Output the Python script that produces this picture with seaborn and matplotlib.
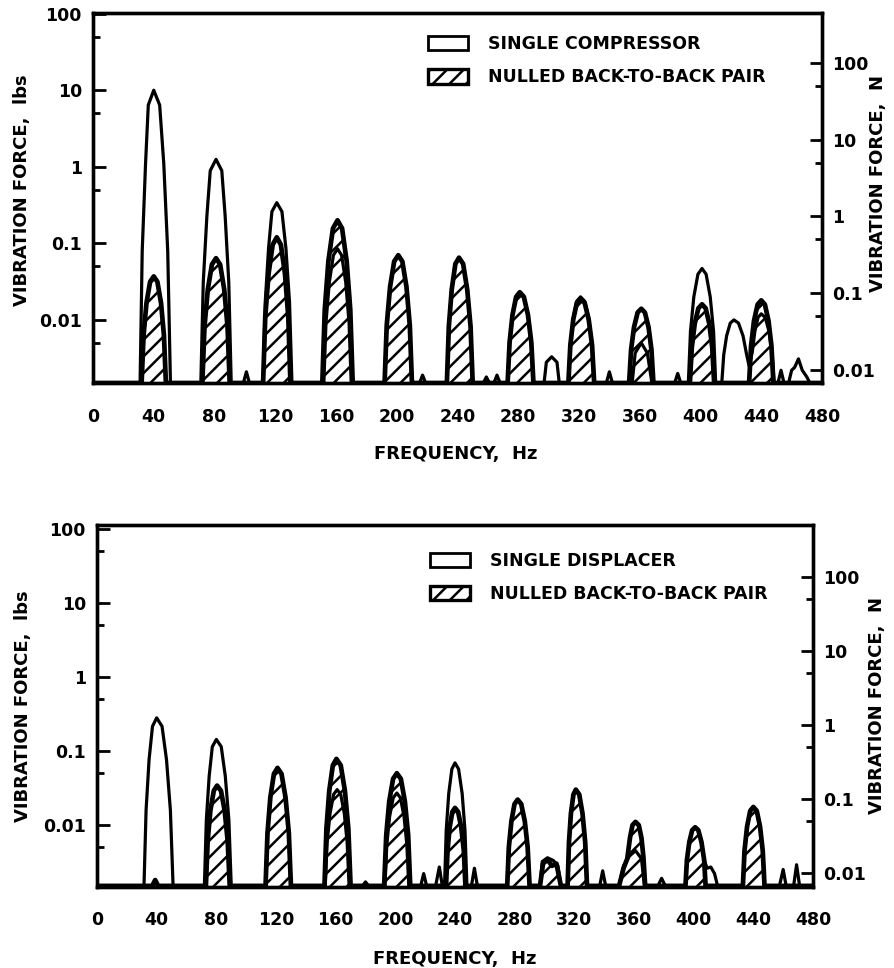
import matplotlib
matplotlib.use("Agg")
import matplotlib.pyplot as plt
from matplotlib.patches import Patch
import pandas as pd
import seaborn as sns

# ---------------- data ----------------
FREQ_TICKS = [0, 40, 80, 120, 160, 200, 240, 280, 320, 360, 400, 440, 480]
LBS_TICKS = [0.01, 0.1, 1, 10, 100]
LBS_LABELS = ["0.01", "0.1", "1", "10", "100"]
LBS_MINOR = [0.005, 0.05, 0.5, 5, 50]
N_TICKS = [0.01, 0.1, 1, 10, 100]
N_LABELS = ["0.01", "0.1", "1", "10", "100"]
N_MINOR = [0.05, 0.5, 5, 50]
LB_TO_N = 4.448
BASE = 0.0015

# top panel: single compressor (open outline)
TOP_SINGLE_F = [
    0, 31, 32.4, 34.6, 36.4, 40, 43.9, 46.6, 49.2, 51,
    71, 72.6, 75, 77.2, 81, 84.8, 87, 89.4, 91,
    99, 101, 103,
    112, 113.4, 115.6, 117.8, 121, 124.4, 127, 129.4, 131,
    152, 153.4, 155.6, 158.3, 161, 163.7, 166.4, 168.6, 170,
    192, 193.4, 195.6, 198.3, 201, 203.7, 206.4, 208.6, 210,
    215, 217, 219,
    233, 234.3, 236.2, 238.6, 241, 243.7, 246.4, 248.6, 250,
    257, 259, 261, 264, 266, 268,
    273, 274.3, 276.2, 278.6, 281, 283.7, 286.4, 288.6, 290,
    297, 298.5, 302, 305.5, 307,
    313, 314.3, 316.2, 318.6, 321, 323.7, 326.4, 328.6, 330,
    338, 340, 342,
    355, 357, 361, 365, 368,
    383, 385, 387,
    392, 393.4, 395.6, 398.3, 401, 403.7, 406.4, 408.6, 410,
    414, 415.3, 417.2, 419.6, 422, 425, 428, 430.4, 432,
    434.1, 435.8, 437.9, 440, 442.6, 445.1, 447.1, 448.5,
    451, 453, 455, 458, 460, 462, 464.5, 467, 470, 472, 480]
TOP_SINGLE_V = [
    .0015, .0015, .079, 1.1, 6.4, 10, 6.4, 1.1, .079, .0015,
    .0015, .031, .23, .89, 1.25, .89, .23, .031, .0015,
    .0015, .0021, .0015,
    .0015, .017, .087, .26, .34, .26, .087, .017, .0015,
    .0015, .0092, .031, .07, .085, .07, .031, .0092, .0015,
    .0015, .0085, .027, .058, .07, .058, .027, .0085, .0015,
    .0015, .0019, .0015,
    .0015, .0082, .025, .054, .065, .054, .025, .0082, .0015,
    .0015, .0018, .0015, .0015, .0019, .0015,
    .0015, .0051, .0116, .020, .023, .020, .0116, .0051, .0015,
    .0015, .0028, .0033, .0028, .0015,
    .0015, .0048, .0105, .0176, .020, .0176, .0105, .0048, .0015,
    .0015, .0021, .0015,
    .0015, .0037, .005, .0037, .0015,
    .0015, .002, .0015,
    .0015, .0071, .020, .0395, .047, .0395, .020, .0071, .0015,
    .0015, .0035, .0062, .0091, .010, .0091, .0062, .0035, .0025,
    .0038, .0071, .0108, .012, .0108, .0071, .0038, .0015,
    .0015, .0022, .0015, .0015, .0022, .0024, .0031, .0022, .0018, .0015, .0015]

# top panel: nulled back-to-back pair (hatched)
TOP_NULLED_F = [
    0, 32, 33.3, 35.2, 37.6, 40, 42.4, 44.8, 46.7, 48,
    72, 73.4, 75.6, 78.3, 81, 83.7, 86.4, 88.6, 90,
    112, 113.4, 115.6, 118.3, 121, 123.7, 126.4, 128.6, 130,
    151, 152.6, 155, 158, 161, 164, 167, 169.4, 171,
    192, 193.4, 195.6, 198.3, 201, 203.7, 206.4, 208.6, 210,
    233, 234.3, 236.2, 238.6, 241, 243.7, 246.4, 248.6, 250,
    273, 274.3, 276.2, 278.6, 281, 283.7, 286.4, 288.6, 290,
    313, 314.3, 316.2, 318.6, 321, 323.7, 326.4, 328.6, 330,
    353, 354.3, 356.2, 358.6, 361, 363.4, 365.8, 367.7, 369,
    393, 394.3, 396.2, 398.6, 401, 403.4, 405.8, 407.7, 409,
    432, 433.3, 435.2, 437.6, 440, 442.4, 444.8, 446.7, 448,
    480]
TOP_NULLED_V = [
    .0015, .0015, .0063, .0166, .0315, .037, .0315, .0166, .0063, .0015,
    .0015, .0081, .025, .053, .064, .053, .025, .0081, .0015,
    .0015, .0108, .040, .096, .12, .096, .040, .0108, .0015,
    .0015, .0136, .059, .157, .20, .157, .059, .0136, .0015,
    .0015, .0085, .027, .058, .07, .058, .027, .0085, .0015,
    .0015, .0082, .025, .054, .065, .054, .025, .0082, .0015,
    .0015, .0051, .0116, .020, .023, .020, .0116, .0051, .0015,
    .0015, .0047, .0101, .0168, .019, .0168, .0101, .0047, .0015,
    .0015, .0041, .008, .0125, .014, .0125, .008, .0041, .0015,
    .0015, .0044, .0089, .0142, .016, .0142, .0089, .0044, .0015,
    .0015, .0046, .0097, .0159, .018, .0159, .0097, .0046, .0015,
    .0015]

# bottom panel: single displacer (open outline)
BOT_SINGLE_F = [
    0, 31.5, 32.9, 34.9, 37.2, 40, 43.6, 46.6, 49.2, 51,
    72, 73.3, 75.2, 77.3, 80, 83.3, 86, 88.4, 90,
    113, 114.3, 116.2, 118.6, 121, 123.7, 126.4, 128.6, 130,
    153, 154.3, 156.2, 158.6, 161, 163.4, 165.8, 167.7, 169,
    178, 180, 182,
    193, 194.3, 196.2, 198.6, 201, 203.4, 205.8, 207.7, 209,
    217, 219, 221, 227, 229.5, 231.5,
    233, 234.1, 235.8, 237.9, 240, 242.4, 244.8, 246.7, 248,
    251, 253, 255,
    275, 276.1, 277.8, 279.9, 282, 284.4, 286.8, 288.7, 290,
    297, 298.5, 302, 306, 309, 311,
    315.5, 316.4, 317.7, 319.4, 321, 323.3, 325.5, 327.3, 328.5,
    337, 339, 341,
    350, 353, 357, 361, 365, 367,
    376, 378.5, 381,
    394.5, 395.5, 397.1, 399, 401, 403.1, 405.2, 407, 409, 411.5, 414, 416,
    433, 434.1, 435.8, 437.9, 440, 442.3, 444.5, 446.3, 447.5,
    457.5, 460, 462, 467, 469, 471, 480]
BOT_SINGLE_V = [
    .0015, .0015, .0158, .076, .215, .28, .215, .076, .0158, .0015,
    .0015, .0117, .0457, .114, .143, .114, .0457, .0117, .0015,
    .0015, .0078, .0235, .049, .059, .049, .0235, .0078, .0015,
    .0015, .0058, .0142, .0258, .030, .0258, .0142, .0058, .0015,
    .0015, .0017, .0015,
    .0015, .0055, .0131, .0233, .027, .0233, .0131, .0055, .0015,
    .0015, .0022, .0015, .0015, .0027, .0015,
    .0015, .0084, .0265, .057, .069, .057, .0265, .0084, .0015,
    .0015, .0026, .0015,
    .0015, .005, .0112, .0192, .022, .0192, .0112, .005, .0015,
    .0015, .0032, .0036, .0033, .0028, .0015,
    .0015, .0058, .0142, .0258, .030, .0258, .0142, .0058, .0015,
    .0015, .0024, .0015,
    .0015, .0028, .0038, .0045, .0035, .0015,
    .0015, .0019, .0015,
    .0015, .0034, .0059, .0085, .0093, .0085, .0059, .0034, .0026, .0027, .0022, .0015,
    .0015, .0045, .0095, .0155, .0175, .0155, .0095, .0045, .0015,
    .0015, .0025, .0015, .0015, .0029, .0015, .0015]

# bottom panel: nulled back-to-back pair (hatched)
BOT_NULLED_F = [
    0, 37, 39, 41,
    73, 74.2, 76, 78.3, 80.5, 83.1, 85.6, 87.6, 89,
    113, 114.3, 116.2, 118.6, 121, 123.7, 126.4, 128.6, 130,
    152.5, 153.8, 155.7, 158.1, 160.5, 163.4, 166.2, 168.5, 170,
    192.5, 193.9, 195.9, 198.5, 201, 203.7, 206.4, 208.6, 210,
    234, 235, 236.4, 238.2, 240, 242.1, 244.2, 245.9, 247,
    275, 276.1, 277.8, 279.9, 282, 284.4, 286.8, 288.7, 290,
    297, 299, 302, 305, 308, 311,
    315.5, 316.4, 317.7, 319.4, 321, 323.3, 325.5, 327.3, 328.5,
    350, 353, 355.5, 357.3, 359, 361, 363.2, 365, 366.3, 367.5,
    394.5, 395.5, 397.1, 399, 401, 403.1, 405.2, 407, 408,
    433, 434.1, 435.8, 437.9, 440, 442.3, 444.5, 446.3, 447.5,
    480]
BOT_NULLED_V = [
    .0015, .0015, .0018, .0015,
    .0015, .0061, .0156, .029, .034, .029, .0156, .0061, .0015,
    .0015, .0078, .0235, .049, .059, .049, .0235, .0078, .0015,
    .0015, .0089, .029, .064, .078, .064, .029, .0089, .0015,
    .0015, .0073, .0208, .042, .05, .042, .0208, .0073, .0015,
    .0015, .0045, .0092, .015, .017, .015, .0092, .0045, .0015,
    .0015, .005, .0112, .0192, .022, .0192, .0112, .005, .0015,
    .0015, .003, .0034, .0028, .003, .0015,
    .0015, .0058, .0142, .0258, .030, .0258, .0142, .0058, .0015,
    .0015, .0026, .0035, .0067, .00995, .011, .00995, .0067, .0037, .0015,
    .0015, .0034, .0059, .0085, .0093, .0085, .0059, .0034, .0015,
    .0015, .0045, .0095, .0155, .0175, .0155, .0095, .0045, .0015,
    .0015]

# ---------------- style ----------------
sns.set_theme(style="white")
plt.rcParams["font.family"] = ["DejaVu Sans"]
plt.rcParams["font.weight"] = "bold"
plt.rcParams["axes.labelweight"] = "bold"
plt.rcParams["axes.labelcolor"] = "black"
plt.rcParams["hatch.linewidth"] = 1.8
plt.rcParams["hatch.color"] = "black"
plt.rcParams["text.color"] = "black"
plt.rcParams["xtick.color"] = "black"
plt.rcParams["ytick.color"] = "black"
plt.rcParams["xtick.labelcolor"] = "black"
plt.rcParams["ytick.labelcolor"] = "black"

fig = plt.figure(figsize=(8.95, 9.68), dpi=100)
fig.patch.set_facecolor("white")

W, H = 895.0, 968.0


def panel(rect, single_f, single_v, null_f, null_v, single_label, ylim,
          leg_anchor, xlabel_pos, ylabel_pos, y2label_pos, xpad):
    l, t, r, b = rect
    ax = fig.add_axes([l / W, 1 - b / H, (r - l) / W, (b - t) / H])
    ax.set_yscale("log")

    # hatched fill for the nulled pair
    ax.fill_between(null_f, BASE, null_v, facecolor="none", edgecolor="black",
                    hatch="//", linewidth=0, zorder=1)
    df_s = pd.DataFrame({"freq": single_f, "force": single_v})
    df_n = pd.DataFrame({"freq": null_f, "force": null_v})
    sns.lineplot(data=df_s, x="freq", y="force", ax=ax, color="black",
                 linewidth=2.3, sort=False, estimator=None, errorbar=None,
                 solid_joinstyle="round", zorder=2)
    sns.lineplot(data=df_n, x="freq", y="force", ax=ax, color="black",
                 linewidth=3.4, sort=False, estimator=None, errorbar=None,
                 solid_joinstyle="round", zorder=3)

    ax.set_xticks(FREQ_TICKS, [str(v) for v in FREQ_TICKS])
    ax.set_yticks(LBS_TICKS, LBS_LABELS)
    ax.set_yticks(LBS_MINOR, [""] * len(LBS_MINOR), minor=True)
    ax.set_xlim(0, 480)
    ax.set_ylim(*ylim)

    ax.tick_params(axis="x", length=0, labelsize=12.5, pad=xpad)
    ax.tick_params(axis="y", which="major", direction="in", length=9, width=2,
                   labelsize=12.5, pad=8, left=True, right=False)
    ax.tick_params(axis="y", which="minor", direction="in", length=5, width=2,
                   left=True, right=False)
    for s in ax.spines.values():
        s.set_linewidth(2.4)
        s.set_color("black")

    ax.set_xlabel("FREQUENCY,  Hz", fontsize=13, fontweight="bold", color="black")
    ax.xaxis.set_label_coords(*xlabel_pos)
    ax.set_ylabel("VIBRATION FORCE,  lbs", fontsize=13, fontweight="bold",
                  va="center", ha="center", color="black")
    ax.yaxis.set_label_coords(*ylabel_pos)

    ax2 = ax.twinx()
    ax2.set_yscale("log")
    ax2.set_yticks(N_TICKS, N_LABELS)
    ax2.set_yticks(N_MINOR, [""] * len(N_MINOR), minor=True)
    ax2.set_ylim(ylim[0] * LB_TO_N, ylim[1] * LB_TO_N)
    ax2.tick_params(axis="y", which="major", direction="in", length=9, width=2,
                    labelsize=12.5, pad=7, right=True, left=False)
    ax2.tick_params(axis="y", which="minor", direction="in", length=5, width=2,
                    right=True, left=False)
    for s in ax2.spines.values():
        s.set_linewidth(2.4)
        s.set_color("black")
    ax2.set_ylabel("VIBRATION FORCE,  N", fontsize=13, fontweight="bold",
                   rotation=90, va="center", ha="center", color="black")
    ax2.yaxis.set_label_coords(*y2label_pos)
    ax2.grid(False)
    ax.grid(False)

    handles = [Patch(facecolor="white", edgecolor="black", linewidth=2),
               Patch(facecolor="white", edgecolor="black", hatch="//", linewidth=2.4)]
    ax.legend(handles, [single_label, "NULLED BACK-TO-BACK PAIR"],
              loc="upper left", bbox_to_anchor=leg_anchor, frameon=False,
              borderpad=0, borderaxespad=0, handlelength=2.3, handleheight=0.9,
              handletextpad=1.15, labelspacing=0.87,
              prop={"size": 12.5, "weight": "bold"})
    return ax


panel((93, 13, 822, 383), TOP_SINGLE_F, TOP_SINGLE_V, TOP_NULLED_F, TOP_NULLED_V,
      "SINGLE COMPRESSOR", (0.0015, 102), (0.4595, 0.94),
      (0.498, -0.167), (-0.097, 0.52), (1.077, 0.54), 18)
panel((97, 525, 813, 887), BOT_SINGLE_F, BOT_SINGLE_V, BOT_NULLED_F, BOT_NULLED_V,
      "SINGLE DISPLACER", (0.00145, 113), (0.465, 0.925),
      (0.5, -0.174), (-0.104, 0.5), (1.09, 0.5), 17)

fig.savefig("out.png", dpi=100, facecolor="white")
